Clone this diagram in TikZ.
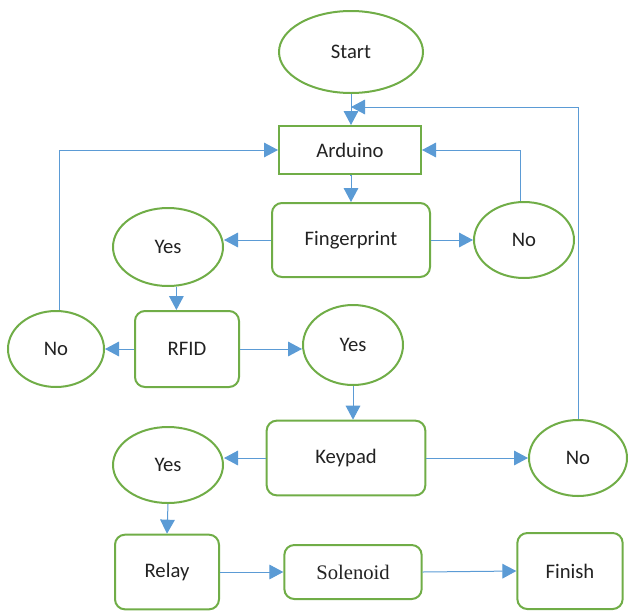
\documentclass[tikz,border=0pt]{standalone}
\usepackage{fontspec}
\setmainfont{Carlito}
\newfontfamily\timesfont{Liberation Serif}
\usetikzlibrary{arrows.meta,shapes.geometric}

\definecolor{boxgreen}{RGB}{112,173,71}
\definecolor{arrowblue}{RGB}{91,155,213}

\begin{document}
\begin{tikzpicture}[x=0.75pt,y=0.75pt,yscale=-1,xscale=1,
  every node/.style={font=\fontsize{15.5}{18}\selectfont, text={rgb,255:red,34;green,34;blue,34}, inner sep=0pt},
  oval/.style={draw=boxgreen, line width=1.5pt, ellipse},
  sqbox/.style={draw=boxgreen, line width=1.5pt, rectangle},
  rbox/.style={draw=boxgreen, line width=1.5pt, rectangle, rounded corners=7.5pt},
  arr/.style={draw=arrowblue, line width=0.75pt, -{Triangle[length=10.5pt,width=11pt]}}]
%set diagram left start at 0, and has height of 611
\useasboundingbox (0,0) rectangle (628,611);
%Shape: Ellipse
\node (start) at (351,52) [oval, minimum width=108pt, minimum height=61.5pt] {Start};
%Shape: Rectangle
\node (ard) at (350,150) [sqbox, minimum width=106.5pt, minimum height=36pt] {Arduino};
%Rounded Rect
\node (fp) at (351,240) [rbox, minimum width=118.5pt, minimum height=55.5pt] {Fingerprint};
%Shape: Ellipse
\node (yes1) at (168,247) [oval, minimum width=82.5pt, minimum height=58.5pt] {Yes};
%Shape: Ellipse
\node (no1) at (524,240) [oval, minimum width=75pt, minimum height=57pt] {No};
%Rounded Rect
\node (rfid) at (187,349) [rbox, minimum width=78pt, minimum height=57pt] {RFID};
%Shape: Ellipse
\node (no2) at (56,349) [oval, minimum width=72pt, minimum height=57pt] {No};
%Shape: Ellipse
\node (yes2) at (353,345) [oval, minimum width=75pt, minimum height=60pt] {Yes};
%Rounded Rect
\node (key) at (346,458) [rbox, minimum width=119pt, minimum height=56pt] {Keypad};
%Shape: Ellipse
\node (no3) at (578,458) [oval, minimum width=73.5pt, minimum height=57pt] {No};
%Shape: Ellipse
\node (yes3) at (168,465) [oval, minimum width=82.5pt, minimum height=57pt] {Yes};
%Rounded Rect
\node (relay) at (167,572) [rbox, minimum width=78pt, minimum height=56pt] {Relay};
%Rounded Rect
\node (sol) at (353,572) [rbox, minimum width=103pt, minimum height=40.5pt] {\timesfont Solenoid};
%Rounded Rect
\node (fin) at (570,571) [rbox, minimum width=79pt, minimum height=57pt] {Finish};
% loop joins the top line here
\coordinate (join) at (351,107);
%Straight Lines
\draw [arr] (start.south) -- (start.south |- ard.north);
\draw [arr] (ard.south) -- (ard.south -| fp.north) -- (fp.north);
\draw [arr] (fp.west) -- (fp.west -| yes1.east);
\draw [arr] (fp.east) -- (no1.west);
\draw [arr] (no1.95) |- (ard.east);
\draw [arr] (yes1.-78) -- (yes1.-78 |- rfid.north);
\draw [arr] (rfid.west) -- (no2.east);
\draw [arr] (no2.85) |- (ard.west);
\draw [arr] (rfid.east) -- (rfid.east -| yes2.west);
\draw [arr] (yes2.south) -- (yes2.south |- key.north);
\draw [arr] (key.west) -- (key.west -| yes3.east);
\draw [arr] (key.east) -- (no3.west);
\draw [arr] (no3.north) |- (join);
\draw [arr] (yes3.south) -- (relay.north);
\draw [arr] (relay.east) -- (relay.east -| sol.west);
\draw [arr] (sol.east) -- (fin.west);
\end{tikzpicture}
\end{document}
